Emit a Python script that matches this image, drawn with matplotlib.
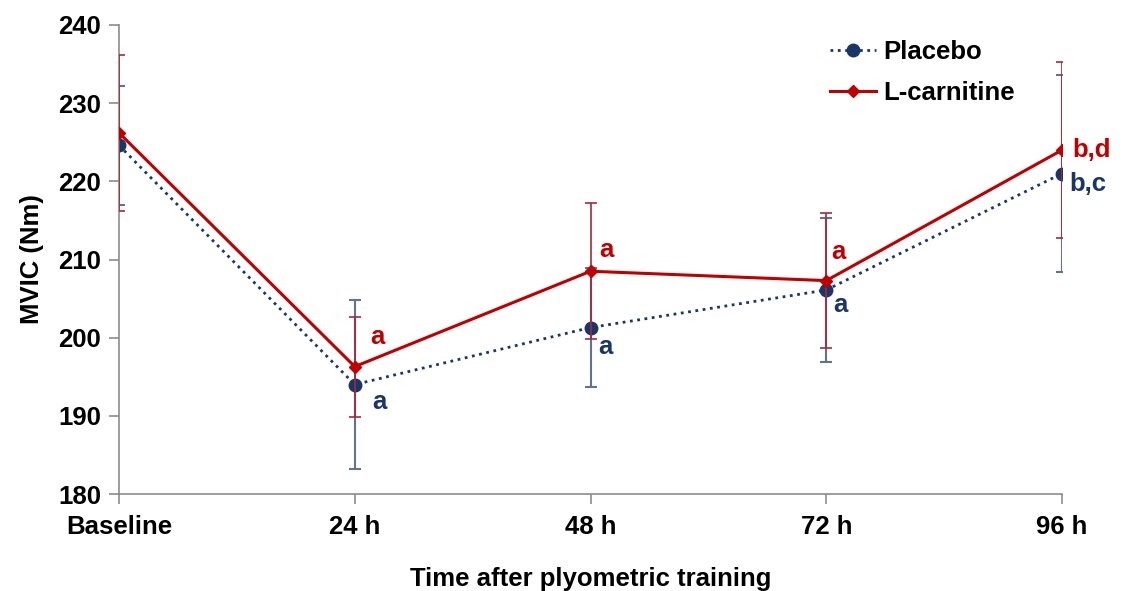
import matplotlib
matplotlib.use("Agg")
import matplotlib.pyplot as plt

# --- data ---
timepoints = ["Baseline", "24 h", "48 h", "72 h", "96 h"]
placebo_mean = [224.6, 194.0, 201.3, 206.1, 221.0]
placebo_sd = [7.6, 10.8, 7.6, 9.2, 12.6]
lcarn_mean = [226.2, 196.3, 208.5, 207.3, 224.0]
lcarn_sd = [10.0, 6.4, 8.7, 8.6, 11.3]

# significance letters per time point (None = no letter)
placebo_sig = [None, "a", "a", "a", "b,c"]
lcarn_sig = [None, "a", "a", "a", "b,d"]

NAVY = "#1A3668"
RED = "#C00000"
FS = 18.5

plt.rcParams["font.family"] = ["Liberation Sans", "DejaVu Sans"]
plt.rcParams["font.weight"] = "bold"

fig = plt.figure(figsize=(11.25, 5.91), dpi=100)
ax = fig.add_axes([0.1058, 0.1641, 0.8382, 0.7936])

x = list(range(len(timepoints)))

# Placebo first, so L-carnitine sits on top
ax.errorbar(x, placebo_mean, yerr=placebo_sd, color=NAVY, ls=":", lw=2,
            marker="o", ms=9, mfc=NAVY, mec=NAVY,
            ecolor="#5F7398", elinewidth=1.5, capsize=4, capthick=1.5,
            label="Placebo", zorder=2)
ax.errorbar(x, lcarn_mean, yerr=lcarn_sd, color=RED, ls="-", lw=2.2,
            marker="D", ms=6, mfc=RED, mec=RED,
            ecolor="#A8283A", elinewidth=1.2, capsize=4, capthick=1.2,
            label="L-carnitine", zorder=3)

# letters next to the points (offsets in pixels)
red_off = [None, (23, 30), (16, 21), (12, 29), (10, 0)]
blue_off = [None, (25, -17), (15, -19), (14, -15), (7, -10)]
for i in range(len(x)):
    if lcarn_sig[i]:
        ha = "left" if "," in lcarn_sig[i] else "center"
        ax.annotate(lcarn_sig[i], (x[i], lcarn_mean[i]), xytext=red_off[i],
                    textcoords="offset pixels", color=RED, fontsize=FS,
                    fontweight="bold", ha=ha, va="center")
    if placebo_sig[i]:
        ha = "left" if "," in placebo_sig[i] else "center"
        ax.annotate(placebo_sig[i], (x[i], placebo_mean[i]), xytext=blue_off[i],
                    textcoords="offset pixels", color=NAVY, fontsize=FS,
                    fontweight="bold", ha=ha, va="center")

ax.set_xlim(0, len(timepoints) - 1)
ax.set_ylim(180, 240)
ax.set_yticks(range(180, 241, 10))
ax.set_xticks(x)
ax.set_xticklabels(timepoints)

for side in ("top", "right"):
    ax.spines[side].set_visible(False)
for side in ("left", "bottom"):
    ax.spines[side].set_color("#8C8C8C")
    ax.spines[side].set_linewidth(1.2)

ax.tick_params(axis="both", colors="#8C8C8C", width=1.2, length=7,
               labelcolor="black", labelsize=FS)
ax.tick_params(axis="x", pad=8)
ax.tick_params(axis="y", pad=6)
for lab in ax.get_xticklabels() + ax.get_yticklabels():
    lab.set_fontweight("bold")

ax.set_ylabel("MVIC (Nm)", fontsize=FS, fontweight="bold", labelpad=10)
ax.set_xlabel("Time after plyometric training", fontsize=FS,
              fontweight="bold", labelpad=20)

handles, labels = ax.get_legend_handles_labels()
handles = [h[0] for h in handles]
ax.legend(handles, labels, loc="upper left", bbox_to_anchor=(0.740, 0.995),
          frameon=False, borderpad=0, handlelength=1.8, handletextpad=0.3,
          labelspacing=0.65, prop={"size": FS, "weight": "bold"})

fig.savefig("out.png", dpi=100)
